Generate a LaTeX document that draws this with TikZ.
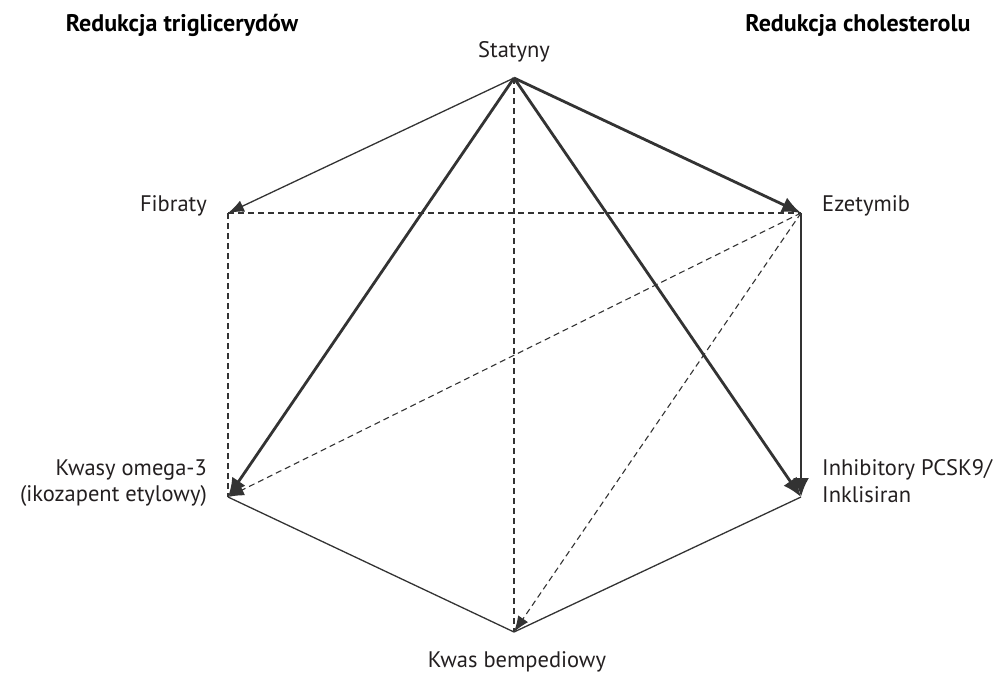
\documentclass[tikz,border=0pt]{standalone}
\usepackage{fontspec}
\setmainfont{PT Sans}
\usetikzlibrary{arrows.meta}
\definecolor{ink}{HTML}{333333}
\definecolor{txt}{HTML}{231F20}
\begin{document}
\begin{tikzpicture}[x=1pt,y=-1pt,
  lbl/.style={font=\fontsize{22.5}{26}\selectfont, text=txt, inner sep=0pt},
  head/.style={font=\fontsize{24}{28}\selectfont\bfseries, text=black, inner sep=0pt, anchor=base},
  thin/.style={draw=ink, line width=1.3pt},
  thick/.style={draw=ink, line width=2.8pt},
  dsh/.style={draw=ink, line width=1.1pt, dash pattern=on 6pt off 4pt},
  tip/.style={-{Latex[length=19pt,width=16pt]}},
  tipsmall/.style={-{Latex[length=16pt,width=12pt]}}]
\useasboundingbox (0,0) rectangle (1000,672);

% vertices of the hexagon
\coordinate (S) at (514,78);
\coordinate (F) at (228,213);
\coordinate (E) at (801,213);
\coordinate (K) at (228,497);
\coordinate (I) at (801,497);
\coordinate (B) at (514,632);

% headings
\node[head] (h1) at (182,31) {Redukcja triglicerydów};
\node[head] (h2) at (858,31) {Redukcja cholesterolu};

% vertex labels
\node[lbl, anchor=base] (ls) at (514,57) {Statyny};
\node[lbl, anchor=base east] (lf) at (207,211) {Fibraty};
\node[lbl, anchor=base west] (le) at (822,211) {Ezetymib};
\node[lbl, anchor=base east] (lk1) at (207,475) {Kwasy omega-3};
\node[lbl, anchor=base east] (lk2) at (207,501) {(ikozapent etylowy)};
\node[lbl, anchor=base west] (li1) at (822,475) {Inhibitory PCSK9/};
\node[lbl, anchor=base west] (li2) at (822,502) {Inklisiran};
\node[lbl, anchor=base] (lb) at (517,667) {Kwas bempediowy};

% dashed links without heads
\draw[dsh] (S) -- (B);
\draw[dsh] (F) -- (E);
\draw[dsh] (F) -- (K);

% outer thin edges
\draw[thin, line join=miter] (K) -- (B) -- (I);

% dashed links with heads
\draw[dsh, tipsmall] (E) -- (K);
\draw[dsh, tipsmall] (E) -- (B);

% statin links
\draw[thin, tipsmall] (S) -- (F);
\draw[thick, tip] (S) -- (E);
\draw[thick, tip] (S) -- (K);
\draw[thick, tip] (S) -- (I);
\draw[thick, tip] (E) -- (I);
\end{tikzpicture}
\end{document}
